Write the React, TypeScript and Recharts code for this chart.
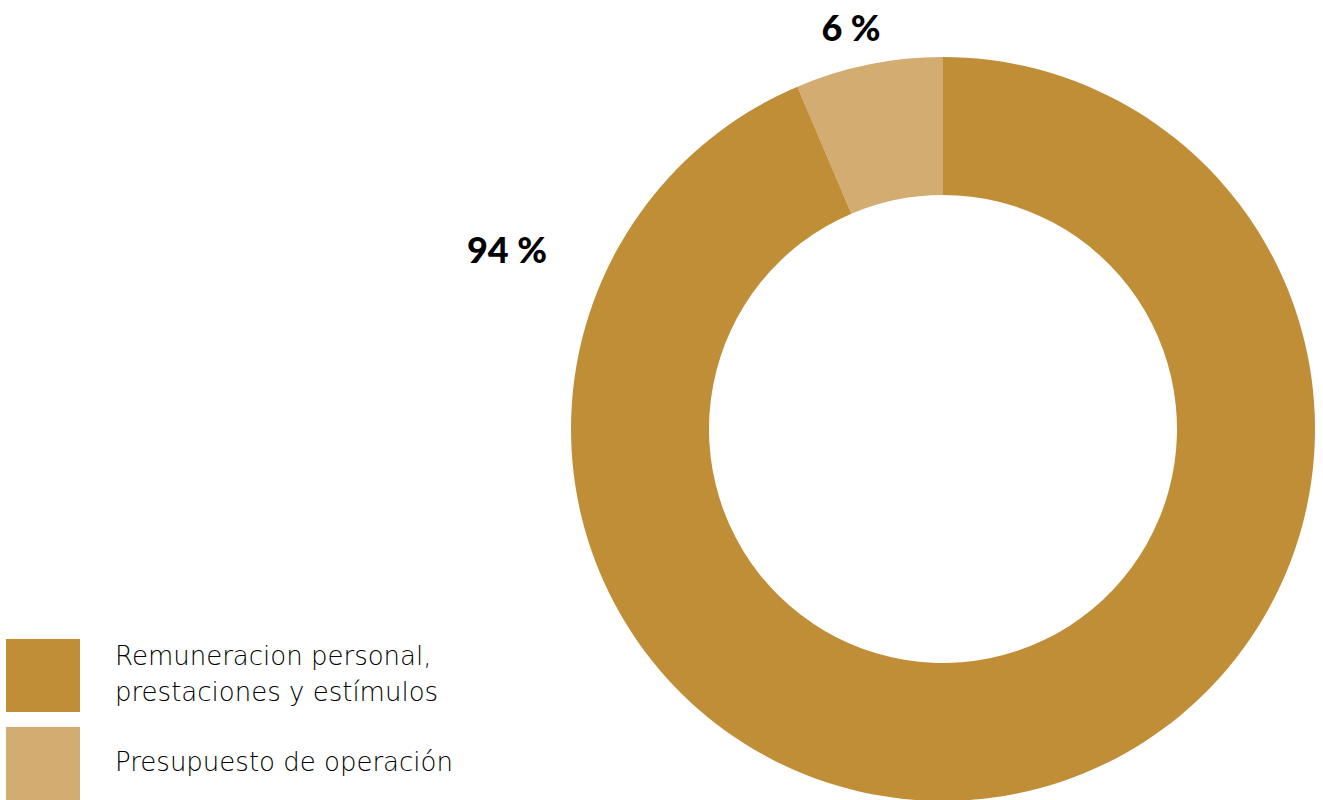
import React from "react";
import { PieChart, Pie, Cell, Legend } from "recharts";

const CATEGORIES = ["Presupuesto de operación", "Remuneracion personal, prestaciones y estímulos"];
const VALUES = [6.4, 93.6];
const COLORS = ["#D2AC71", "#BF8E37"];
const LEGEND_ORDER = [1, 0];
const LEGEND_LINES = [["Presupuesto de operación"], ["Remuneracion personal,", "prestaciones y estímulos"]];

// label offsets from the pie centre, per slice
const LABEL_OFFSETS = [
  { dx: -92, dy: -402 },
  { dx: -436, dy: -180 },
];

const data = CATEGORIES.map((name, i) => ({ name, value: VALUES[i] }));

const renderLabel = (props: any) => {
  const { cx, cy, index, value } = props;
  const off = LABEL_OFFSETS[index];
  return (
    <text
      x={cx + off.dx}
      y={cy + off.dy}
      textAnchor="middle"
      dominantBaseline="central"
      fill="#000"
      fontFamily="Lato, sans-serif"
      fontWeight={900}
      fontSize={36}
    >
      {`${Math.round(value)} %`}
    </text>
  );
};

const renderLegend = () => (
  <div style={{ fontFamily: "'DejaVu Sans', sans-serif", fontWeight: 200, fontSize: 26, color: "#000" }}>
    {LEGEND_ORDER.map((idx, row) => (
      <div
        key={idx}
        style={{ position: "absolute", left: 6, top: row * 88, width: 480, height: 73, display: "flex", alignItems: "center" }}
      >
        <div style={{ width: 74, height: 73, background: COLORS[idx], flexShrink: 0 }} />
        <div style={{ marginLeft: 35, lineHeight: "36px", textAlign: "left", marginTop: -4 }}>
          {LEGEND_LINES[idx].map((l) => (
            <div key={l}>{l}</div>
          ))}
        </div>
      </div>
    ))}
  </div>
);

export default function App() {
  return (
    <div style={{ position: "absolute", left: 0, top: 0, width: 1323, height: 800, background: "#fff" }}>
      <PieChart width={1323} height={800} margin={{ top: 0, right: 0, bottom: 0, left: 0 }}>
        <Pie
          data={data}
          dataKey="value"
          nameKey="name"
          cx={943}
          cy={429}
          innerRadius={234}
          outerRadius={372}
          startAngle={90}
          endAngle={450}
          stroke="none"
          label={renderLabel}
          labelLine={false}
          isAnimationActive={false}
        >
          {data.map((_, i) => (
            <Cell key={i} fill={COLORS[i]} />
          ))}
        </Pie>
        <Legend
          content={renderLegend}
          wrapperStyle={{ position: "absolute", left: 0, top: 639, width: 490, height: 161 }}
        />
      </PieChart>
    </div>
  );
}
